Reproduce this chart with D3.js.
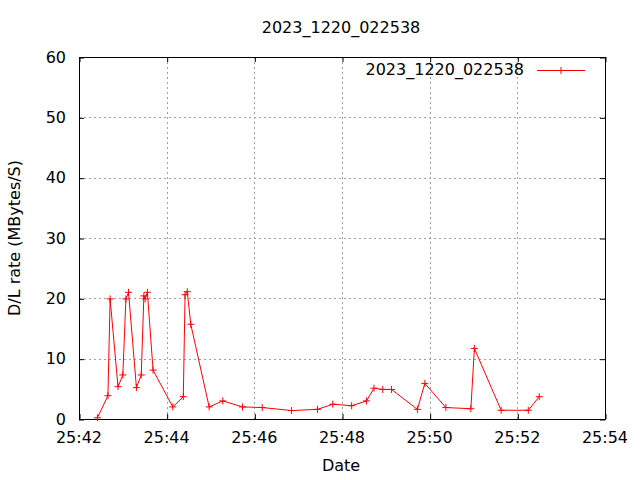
<!DOCTYPE html>
<html><head><meta charset="utf-8">
<script src="https://cdn.jsdelivr.net/npm/d3@7"></script>
<style>body{margin:0;background:#fff}text{font-family:"DejaVu Sans",sans-serif;font-size:16px;fill:#000}</style>
</head><body>
<svg id="c" width="640" height="480"></svg>
<script>
const title = "2023_1220_022538";
const seriesName = "2023_1220_022538";
// seconds within minute 25 (time axis shown as MM:SS)
const seconds = [42.42,42.66,42.71,42.89,43.00,43.07,43.13,43.31,43.42,43.48,43.51,43.56,43.69,44.14,44.38,44.42,44.47,44.55,44.97,45.28,45.73,46.18,46.85,47.44,47.79,48.22,48.56,48.73,48.93,49.13,49.72,49.89,50.37,50.94,51.02,51.63,52.25,52.50];
const rates = [0.2,3.86,19.9,5.35,7.3,19.9,21.0,5.2,7.3,20.4,19.9,21.0,8.1,2.0,3.7,20.6,21.1,15.7,2.0,3.0,2.0,1.9,1.4,1.6,2.45,2.2,3.0,5.1,4.9,4.9,1.6,5.9,1.9,1.7,11.7,1.45,1.45,3.7];
const xTicks = [42,44,46,48,50,52,54];
const yTicks = [0,10,20,30,40,50,60];

const svg = d3.select("#c");
const L=79,R=605,T=57,B=419;
const x = d3.scaleLinear().domain([42,54]).range([L,R]);
const y = d3.scaleLinear().domain([0,60]).range([B,T]);

// grid
const g = svg.append("g");
g.selectAll(".gx").data(xTicks.slice(1,-1)).join("line")
 .attr("x1",d=>Math.round(x(d))+0.5).attr("x2",d=>Math.round(x(d))+0.5).attr("y1",T).attr("y2",B)
 .attr("stroke","#a0a0a0").attr("stroke-dasharray","2,3");
g.selectAll(".gy").data(yTicks.slice(1,-1)).join("line")
 .attr("y1",d=>Math.round(y(d))+0.5).attr("y2",d=>Math.round(y(d))+0.5).attr("x1",L).attr("x2",R)
 .attr("stroke","#a0a0a0").attr("stroke-dasharray","2,3");

// axes with mirrored inward ticks
const fmt = d=>"25:"+d;
const ax = (axis,tr)=>{const a=svg.append("g").attr("transform",tr).call(axis);a.select(".domain").remove();a.selectAll("line").attr("stroke","#000");a.selectAll("text").remove();return a;};
ax(d3.axisBottom(x).tickValues(xTicks).tickSize(-5),`translate(0.5,${B})`);
ax(d3.axisTop(x).tickValues(xTicks).tickSize(-5),`translate(0.5,${T})`);
ax(d3.axisLeft(y).tickValues(yTicks).tickSize(-5),`translate(${L},0.5)`);
ax(d3.axisRight(y).tickValues(yTicks).tickSize(-5),`translate(${R},0.5)`);

svg.append("rect").attr("x",L+0.5).attr("y",T+0.5).attr("width",R-L).attr("height",B-T)
 .attr("fill","none").attr("stroke","#000");

// tick labels
svg.selectAll(".xl").data(xTicks).join("text").attr("x",d=>x(d)).attr("y",437)
 .attr("text-anchor","middle").attr("dominant-baseline","central").text(fmt);
svg.selectAll(".yl").data(yTicks).join("text").attr("x",66).attr("y",d=>y(d))
 .attr("text-anchor","end").attr("dominant-baseline","central").text(d=>d);

// titles
svg.append("text").attr("x",341).attr("y",27).attr("text-anchor","middle").attr("dominant-baseline","central").text(title);
svg.append("text").attr("x",341).attr("y",465).attr("text-anchor","middle").attr("dominant-baseline","central").text("Date");
svg.append("text").attr("transform","translate(14,238) rotate(-90)").attr("text-anchor","middle").attr("dominant-baseline","central").text("D/L rate (MBytes/S)");

// series
const data = seconds.map((s,i)=>({s,v:rates[i]}));
svg.append("path").datum(data).attr("fill","none").attr("stroke","#ff0000").attr("stroke-width",1)
 .attr("d",d3.line().x(d=>x(d.s)).y(d=>y(d.v)));
const plus = (sel,cx,cy)=>sel.append("path").attr("d",`M${cx-3.5},${cy}H${cx+3.5}M${cx},${cy-3.5}V${cy+3.5}`).attr("stroke","#ff0000").attr("stroke-width",1);
data.forEach(d=>plus(svg,x(d.s),y(d.v)));

// legend
svg.append("text").attr("x",524).attr("y",69).attr("text-anchor","end").attr("dominant-baseline","central").text(seriesName);
svg.append("line").attr("x1",537).attr("x2",585).attr("y1",70.5).attr("y2",70.5).attr("stroke","#ff0000");
plus(svg,561,70.5);
</script>
</body></html>
